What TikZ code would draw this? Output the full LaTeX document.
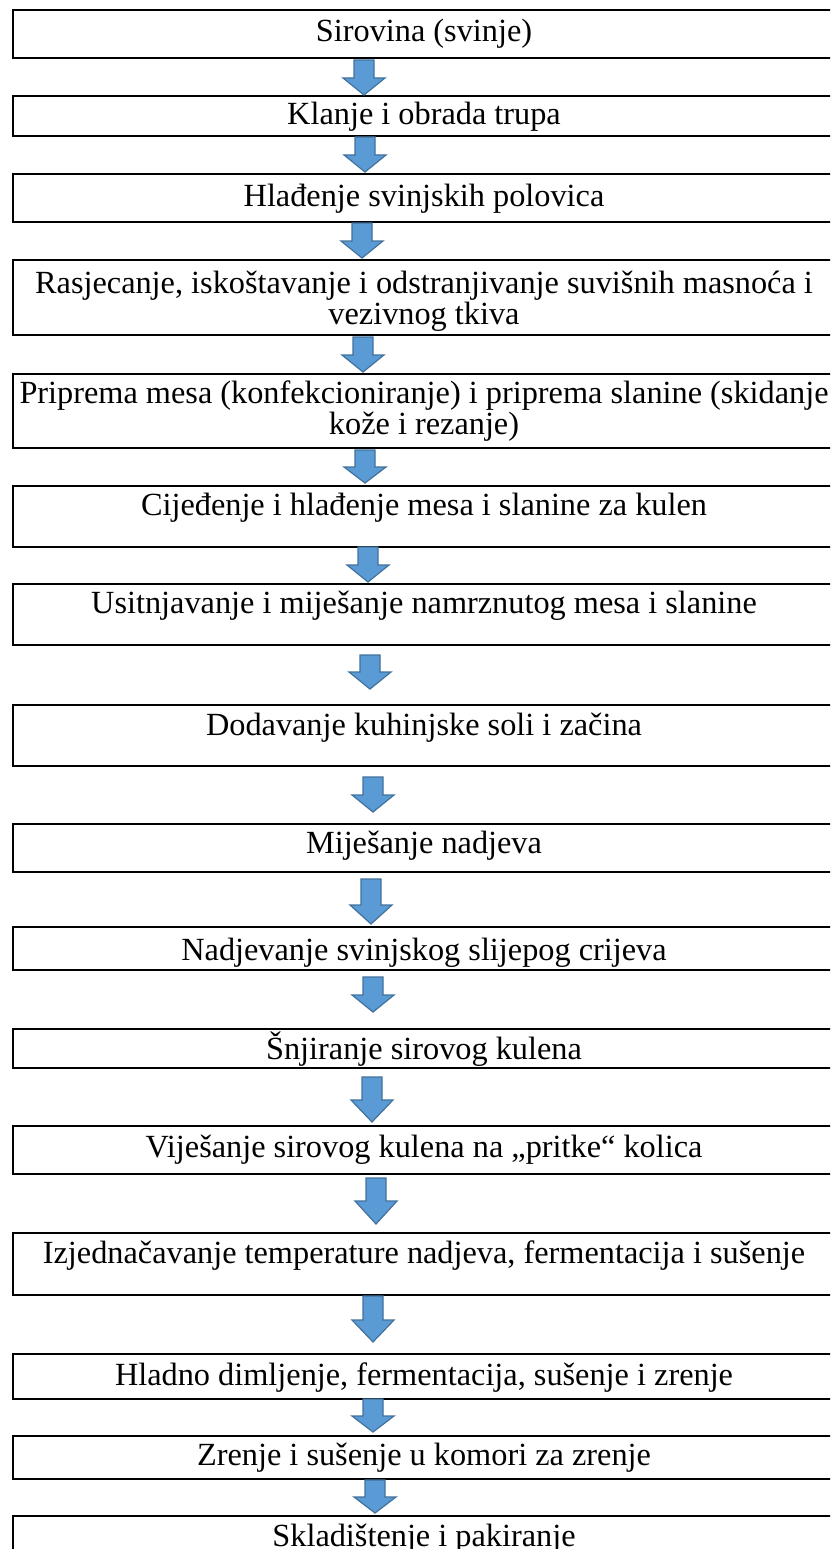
\documentclass[tikz,border=0pt]{standalone}
\usepackage{fontspec}
\setmainfont{Liberation Serif}
\definecolor{arrfill}{HTML}{5B9BD5}
\definecolor{arrline}{HTML}{41719C}
\newcommand\blockarr[4]{%
  \draw[blk] ({#4-10},#1) -- ({#4+10},#1) -- ({#4+10},#2) -- ({#4+21},#2) -- (#4,#3) -- ({#4-21},#2) -- ({#4-10},#2) -- cycle;}
\begin{document}
\begin{tikzpicture}[x=1pt,y=-1pt,
  stepbox/.style={draw=black,line width=1.8pt,rectangle,anchor=north west,minimum width=850pt,inner sep=0pt},
  txt/.style={font=\fontsize{32.3}{28}\selectfont,inner sep=0pt,anchor=base},
  blk/.style={fill=arrfill,draw=arrline,line width=1.2pt,line join=miter}]
\useasboundingbox (0,0) rectangle (830,1549);
\clip (0,0) rectangle (830,1549);
\fill[white] (0,0) rectangle (830,1549);
\def\cx{424}
% boxes
\node[stepbox,minimum height=48pt] (b1) at (12,9) {};
\node[stepbox,minimum height=40pt] (b2) at (12,95) {};
\node[stepbox,minimum height=48pt] (b3) at (12,173) {};
\node[stepbox,minimum height=75pt] (b4) at (12,259) {};
\node[stepbox,minimum height=74pt] (b5) at (12,373) {};
\node[stepbox,minimum height=61pt] (b6) at (12,485) {};
\node[stepbox,minimum height=61pt] (b7) at (12,583) {};
\node[stepbox,minimum height=61pt] (b8) at (12,704) {};
\node[stepbox,minimum height=48pt] (b9) at (12,823) {};
\node[stepbox,minimum height=43pt] (b10) at (12,926) {};
\node[stepbox,minimum height=39pt] (b11) at (12,1028) {};
\node[stepbox,minimum height=48pt] (b12) at (12,1125) {};
\node[stepbox,minimum height=62pt] (b13) at (12,1232) {};
\node[stepbox,minimum height=45pt] (b14) at (12,1353) {};
\node[stepbox,minimum height=43pt] (b15) at (12,1435) {};
\node[stepbox,minimum height=60pt] (b16) at (12,1515) {};
% texts
\node[txt] (t1) at (\cx,42) {Sirovina (svinje)};
\node[txt] (t2) at (\cx,125) {Klanje i obrada trupa};
\node[txt] (t3) at (\cx,207) {Hlađenje svinjskih polovica};
\node[txt] (t4a) at (\cx,293) {Rasjecanje, iskoštavanje i odstranjivanje suvišnih masnoća i};
\node[txt] (t4b) at (\cx,324) {vezivnog tkiva};
\node[txt] (t5a) at (\cx,403) {Priprema mesa (konfekcioniranje) i priprema slanine (skidanje};
\node[txt] (t5b) at (\cx,434) {kože i rezanje)};
\node[txt] (t6) at (\cx,515) {Cijeđenje i hlađenje mesa i slanine za kulen};
\node[txt] (t7) at (\cx,613) {Usitnjavanje i miješanje namrznutog mesa i slanine};
\node[txt] (t8) at (\cx,735) {Dodavanje kuhinjske soli i začina};
\node[txt] (t9) at (\cx,853) {Miješanje nadjeva};
\node[txt] (t10) at (\cx,960) {Nadjevanje svinjskog slijepog crijeva};
\node[txt] (t11) at (\cx,1059) {Šnjiranje sirovog kulena};
\node[txt] (t12) at (\cx,1157) {Viješanje sirovog kulena na „pritke“ kolica};
\node[txt] (t13) at (\cx,1263) {Izjednačavanje temperature nadjeva, fermentacija i sušenje};
\node[txt] (t14) at (\cx,1385) {Hladno dimljenje, fermentacija, sušenje i zrenje};
\node[txt] (t15) at (\cx,1465) {Zrenje i sušenje u komori za zrenje};
\node[txt] (t16) at (\cx,1546) {Skladištenje i pakiranje};
% arrows
\blockarr{60}{78}{95}{364}
\blockarr{137}{155}{172}{365}
\blockarr{223}{241}{258}{362}
\blockarr{337}{355}{372}{363}
\blockarr{450}{467}{483}{365}
\blockarr{547}{565}{582}{368}
\blockarr{655}{672}{689}{370}
\blockarr{777}{795}{812}{373}
\blockarr{879}{905}{924}{371}
\blockarr{977}{995}{1012}{373}
\blockarr{1077}{1100}{1122}{372}
\blockarr{1178}{1201}{1224}{376}
\blockarr{1296}{1320}{1342}{373}
\blockarr{1399}{1416}{1432}{373}
\blockarr{1480}{1497}{1513}{375}
\end{tikzpicture}
\end{document}
